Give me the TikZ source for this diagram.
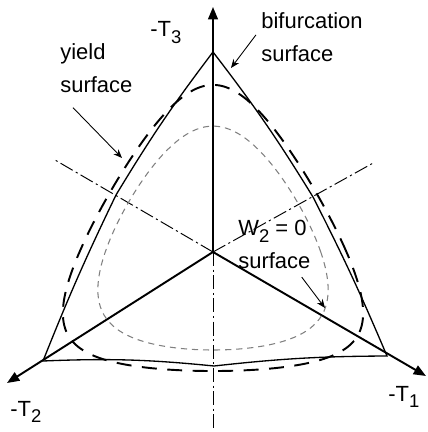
\documentclass[tikz,border=0pt]{standalone}
\usepackage{fontspec}
\setmainfont{Liberation Sans}
\usetikzlibrary{arrows.meta,calc}
\definecolor{wgray}{RGB}{128,128,128}
\newcommand{\lsub}[1]{\raisebox{-0.55ex}{\fontsize{10.5}{10.5}\selectfont #1}}

\begin{document}
\begin{tikzpicture}[
  x=0.02cm, y=0.02cm,
  loadaxis/.style={line width=1.1pt, -{Triangle[length=7pt,width=5.5pt]}},
  symline/.style={line width=0.55pt, dash pattern=on 8pt off 2pt on 1.2pt off 2pt},
  bifur/.style={line width=0.75pt, line join=miter},
  yieldsurf/.style={line width=1.1pt, dash pattern=on 8.5pt off 6pt},
  wtwo/.style={line width=0.6pt, wgray, dash pattern=on 3.5pt off 2.8pt},
  lbl/.style={font=\fontsize{12.5}{18.7}\selectfont, inner sep=0pt, align=left},
  flow/.style={-{Stealth[length=5pt,width=4pt]}, line width=0.5pt}
]
\useasboundingbox (-213,-180) rectangle (214,252);

%% Corners of the bifurcation surface
\coordinate (o)  at (0,0);
\coordinate (v3) at (0,200);
\coordinate (v2) at (-170,-109);
\coordinate (v1) at (174,-104);
\coordinate (ml) at (-97,57);
\coordinate (mb) at (1,-114);
\coordinate (mr) at (100,55);

%% Symmetry lines
\draw[symline] (o) -- (-158,92) coordinate (s2);
\draw[symline] (o) -- (162,90)  coordinate (s1);
\draw[symline] (o) -- (0,-178)  coordinate (s3);

%% Principal stress axes
\draw[loadaxis] (o) -- (0,245)      coordinate (t3);
\draw[loadaxis] (o) -- (-206,-131)  coordinate (t2);
\draw[loadaxis] (o) -- (213,-124)   coordinate (t1);

%% W2 = 0 surface
\draw[wtwo] plot[domain=0:360, samples=181, smooth]
  (\x:{93.3/cos(acos(0.595*sin(3*\x))/3)}) -- cycle;

%% Yield surface
\draw[yieldsurf] plot[domain=0:360, samples=181, smooth]
  (\x:{115.6/cos(acos(0.751*sin(3*\x))/3)}) -- cycle;

%% Bifurcation surface
\draw[bifur] (v3) to[bend right=3] (ml) to[bend right=2] (v2)
  to[bend left=4] (mb) to[bend left=3] (v1) to[bend right=2] (mr)
  to[bend right=3] (v3);

%% Axis labels
\node[lbl, anchor=base west] (t3lbl) at (-63,215)   {-T\lsub{3}};
\node[lbl, anchor=base west] (t2lbl) at (-203,-164) {-T\lsub{2}};
\node[lbl, anchor=base west] (t1lbl) at (175,-149)  {-T\lsub{1}};

%% Surface labels
\node[lbl, anchor=north west] (yieldlbl) at (-153,209) {yield\\surface};
\node[lbl, anchor=north west] (biflbl)   at (48,240)   {bifurcation\\surface};
\node[lbl, anchor=north west] (w2lbl)    at (25,32)    {W\lsub{2} = 0\\surface};

\coordinate (yieldpt) at (-91,94);
\coordinate (bifpt)   at (18,184);
\coordinate (w2pt)    at (112,-56);

\draw[flow] ($(yieldlbl.south west)+(13,-15)$) -- (yieldpt);
\draw[flow] ($(biflbl.west)+(-5,2)$) -- (bifpt);
\draw[flow] ($(w2lbl.south east)+(-9,-8)$) -- (w2pt);
\end{tikzpicture}
\end{document}
